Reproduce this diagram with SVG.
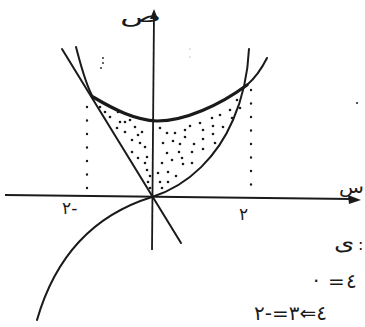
<svg xmlns="http://www.w3.org/2000/svg" width="365" height="327" viewBox="0 0 365 327">
<style>
.c{fill:none;stroke:#1a1a1a;stroke-width:2;stroke-linecap:round;stroke-linejoin:round}
.b{stroke-width:3.2}
.ax{fill:none;stroke:#1a1a1a;stroke-width:1.8}
.dl{fill:none;stroke:#1a1a1a;stroke-width:2.4;stroke-linecap:round;stroke-dasharray:0 13.5}
.t{font-family:"DejaVu Sans","Noto Sans",sans-serif;fill:#1a1a1a}
.d circle{fill:#1a1a1a}
</style>
<rect width="365" height="327" fill="#fff"/>
<g id="axes">
<line class="ax" x1="154" y1="14" x2="152" y2="250"/>
<polygon points="154,9 150,19 158,19" fill="#1a1a1a"/>
<line class="ax" x1="5" y1="195" x2="352" y2="199"/>
<polygon points="361,200 348,195 349,204" fill="#1a1a1a"/>
<text class="t" font-size="18" transform="translate(120,22) scale(1.9,1)">ص</text>
<text class="t" font-size="17" transform="translate(339,193) scale(1.2,1)">س</text>
<text class="t" x="62" y="214" font-size="17" letter-spacing="4" direction="ltr" unicode-bidi="bidi-override">٢-</text>
<text class="t" x="239" y="220" font-size="17">٢</text>
</g>
<g id="connectors">
<path id="line" class="c" d="M62,49 L181,243"/>
<path id="parabola-left" class="c" d="M76,47 C81,66 86,86 93,97"/>
<path id="parabola" class="c b" d="M93,97 C115,110 135,120 157,121 C185,121 220,105 247,85"/>
<path id="parabola-right" class="c" d="M247,85 C255,78 262,68 267,58"/>
<path id="cubic" class="c" d="M249,49 C248,70 244,95 233,120 C218,155 190,185 152,197 C110,210 60,240 37,320"/>
<line class="dl" x1="87" y1="107" x2="87" y2="190"/>
<line class="dl" x1="251" y1="90" x2="251" y2="194"/>
</g>
<g id="shading" class="d">
<circle cx="100" cy="107" r="1.3"/><circle cx="110" cy="117" r="1.3"/><circle cx="118" cy="112" r="1.3"/>
<circle cx="130" cy="120" r="1.3"/><circle cx="117" cy="128" r="1.3"/><circle cx="125" cy="132" r="1.3"/>
<circle cx="135" cy="127" r="1.3"/><circle cx="142" cy="132" r="1.3"/><circle cx="132" cy="140" r="1.3"/>
<circle cx="145" cy="147" r="1.3"/><circle cx="132" cy="152" r="1.3"/><circle cx="147" cy="157" r="1.3"/>
<circle cx="120" cy="122" r="1.3"/><circle cx="138" cy="135" r="1.3"/><circle cx="140" cy="143" r="1.3"/>
<circle cx="138" cy="158" r="1.3"/><circle cx="145" cy="163" r="1.3"/><circle cx="147" cy="170" r="1.3"/>
<circle cx="150" cy="176" r="1.3"/><circle cx="148" cy="182" r="1.3"/><circle cx="150" cy="188" r="1.3"/>
<circle cx="160" cy="128" r="1.3"/><circle cx="167" cy="133" r="1.3"/><circle cx="175" cy="133" r="1.3"/>
<circle cx="185" cy="130" r="1.3"/><circle cx="190" cy="126" r="1.3"/><circle cx="200" cy="123" r="1.3"/>
<circle cx="203" cy="130" r="1.3"/><circle cx="212" cy="118" r="1.3"/><circle cx="220" cy="115" r="1.3"/>
<circle cx="230" cy="110" r="1.3"/><circle cx="237" cy="100" r="1.3"/><circle cx="240" cy="108" r="1.3"/>
<circle cx="213" cy="126" r="1.3"/><circle cx="223" cy="127" r="1.3"/><circle cx="232" cy="118" r="1.3"/>
<circle cx="163" cy="143" r="1.3"/><circle cx="173" cy="141" r="1.3"/><circle cx="185" cy="137" r="1.3"/>
<circle cx="194" cy="144" r="1.3"/><circle cx="203" cy="139" r="1.3"/><circle cx="213" cy="134" r="1.3"/>
<circle cx="215" cy="143" r="1.3"/><circle cx="180" cy="144" r="1.3"/>
<circle cx="167" cy="153" r="1.3"/><circle cx="179" cy="152" r="1.3"/><circle cx="192" cy="152" r="1.3"/>
<circle cx="203" cy="149" r="1.3"/><circle cx="182" cy="158" r="1.3"/>
<circle cx="162" cy="163" r="1.3"/><circle cx="172" cy="160" r="1.3"/><circle cx="183" cy="164" r="1.3"/>
<circle cx="192" cy="163" r="1.3"/><circle cx="158" cy="173" r="1.3"/><circle cx="168" cy="172" r="1.3"/>
<circle cx="176" cy="176" r="1.3"/><circle cx="160" cy="182" r="1.3"/><circle cx="168" cy="182" r="1.3"/>
<circle cx="162" cy="188" r="1.3"/><circle cx="125" cy="122" r="1.3"/><circle cx="105" cy="112" r="1.3"/>
</g>
<g id="specks" class="d">
<circle cx="103" cy="58" r="0.9"/><circle cx="103" cy="63" r="0.9"/><circle cx="101" cy="68" r="0.9"/>
<circle cx="190" cy="49" r="0.6" opacity="0.5"/><circle cx="190" cy="57" r="0.6" opacity="0.5"/>
<circle cx="357" cy="103" r="1"/>
</g>
<g id="notes">
<text class="t" font-size="20" transform="translate(334,250) scale(1.3,1)">ى</text>
<text class="t" x="358" y="250" font-size="16">:</text>
<text class="t" x="313" y="288" font-size="20">·</text>
<text class="t" x="328" y="288" font-size="20">=</text>
<text class="t" x="346" y="288" font-size="20">٤</text>
<text class="t" x="254" y="320" font-size="20" letter-spacing="3" direction="ltr" unicode-bidi="bidi-override">٢-=٣⇐٤</text>
</g>
</svg>
